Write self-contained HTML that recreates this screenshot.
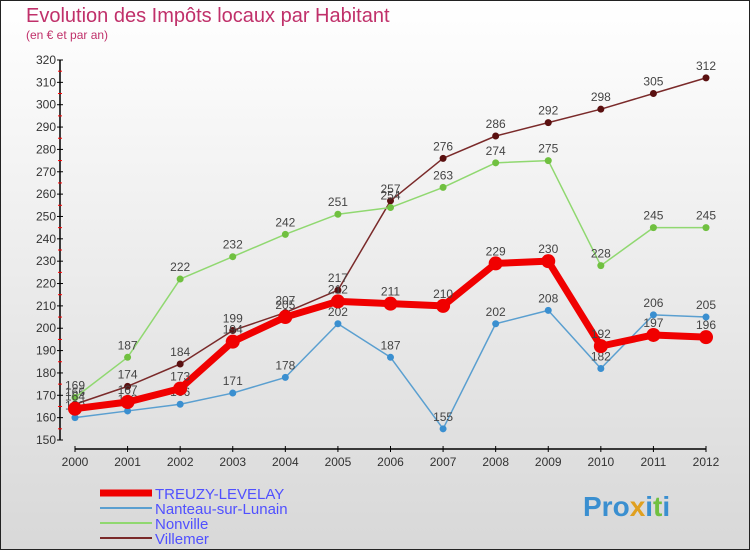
<!DOCTYPE html>
<html><head><meta charset="utf-8"><style>
body{margin:0;width:750px;height:550px;overflow:hidden;font-family:"Liberation Sans",sans-serif}
svg{display:block}
</style></head><body>
<svg id="c" width="750" height="550" xmlns="http://www.w3.org/2000/svg">
<defs><linearGradient id="bg" x1="0" y1="0" x2="0" y2="1"><stop offset="0" stop-color="#ffffff"/><stop offset="1" stop-color="#d8d8d8"/></linearGradient></defs>
<rect x="0.5" y="0.5" width="749" height="549" fill="url(#bg)" stroke="#222"/>
<text x="26" y="22" font-size="20" fill="#c0306a">Evolution des Impôts locaux par Habitant</text>
<text x="26" y="39" font-size="12" fill="#c0306a">(en € et par an)</text>
<g id="axes"></g><g id="series"></g><g id="legend"></g>
<text x="583" y="516" font-size="28" font-weight="bold" fill="#3a8fd0">Pro<tspan fill="#e0a020">x</tspan>i<tspan fill="#70c040">t</tspan>i</text>
</svg>
<script>
const years=[2000,2001,2002,2003,2004,2005,2006,2007,2008,2009,2010,2011,2012];
const treuzy=[164,167,173,194,205,212,211,210,229,230,192,197,196];
const nanteau=[160,163,166,171,178,202,187,155,202,208,182,206,205];
const nonville=[169,187,222,232,242,251,254,263,274,275,228,245,245];
const villemer=[166,174,184,199,207,217,257,276,286,292,298,305,312];
const yTicks=[150,160,170,180,190,200,210,220,230,240,250,260,270,280,290,300,310,320];
const NS="http://www.w3.org/2000/svg";
const X=i=>75+i*(706-75)/12;
const Y=v=>440-(v-150)*(380/170);
function mk(t,a,p){const e=document.createElementNS(NS,t);for(const k in a)e.setAttribute(k,a[k]);p.appendChild(e);return e;}
const ax=document.getElementById('axes');
let l=mk('line',{x1:60,y1:Y(320),x2:60,y2:Y(150),stroke:'#000','stroke-width':1.5},ax);


yTicks.forEach(v=>{
 mk('line',{x1:57,x2:63,y1:Y(v),y2:Y(v),stroke:'#000'},ax);
 if(v<320)mk('line',{x1:58,x2:62,y1:Y(v+5),y2:Y(v+5),stroke:'#f00'},ax);
 const t=mk('text',{x:56,y:Y(v)+4,'font-size':12,fill:'#333','text-anchor':'end'},ax);t.textContent=v;
 
 
});
l=mk('line',{x1:75,y1:449,x2:706,y2:449,stroke:'#000','stroke-width':1.5},ax);


years.forEach((y,i)=>{
 mk('line',{x1:X(i),x2:X(i),y1:446,y2:452,stroke:'#000'},ax);
 const t=mk('text',{x:X(i),y:466,'font-size':12,fill:'#333','text-anchor':'middle'},ax);t.textContent=y;
 
 
});
const sg=document.getElementById('series');
const S=[
 {d:villemer,c:'#7a2a2a',pc:'#5a1010',w:1.5,r:3.5,n:'villemer'},
 {d:nonville,c:'#90d870',pc:'#70c040',w:1.5,r:3.5,n:'nonville'},
 {d:nanteau,c:'#5a9fd0',pc:'#3a8fd0',w:1.5,r:3.5,n:'nanteau'},
 {d:treuzy,c:'#f00000',pc:'#f00000',w:7,r:7,n:'treuzy'}];
S.forEach(s=>{
 const g=mk('g',{},sg);
 
 
 mk('polyline',{points:s.d.map((v,i)=>X(i)+','+Y(v)).join(' '),fill:'none',stroke:s.c,'stroke-width':s.w,'stroke-linejoin':'round'},g);
 s.d.forEach((v,i)=>{
  const c=mk('circle',{cx:X(i),cy:Y(v),r:s.r,fill:s.pc},g);
  
  
  const t=mk('text',{x:X(i),y:Y(v)-8,'font-size':12,fill:'#444','text-anchor':'middle'},g);t.textContent=v;
 });
});
const lg=document.getElementById('legend');
[['TREUZY-LEVELAY','#f00000',7],['Nanteau-sur-Lunain','#5a9fd0',2],['Nonville','#90d870',2],['Villemer','#7a2a2a',2]].forEach((e,i)=>{
 const y=493+i*15;
 const g=mk('g',{},lg);
 
 
 mk('line',{x1:100,x2:152,y1:y,y2:y,stroke:e[1],'stroke-width':e[2]},g);
 const t=mk('text',{x:155,y:y+6,'font-size':15,fill:'#5050ff'},g);t.textContent=e[0];
});
</script>
</body></html>
